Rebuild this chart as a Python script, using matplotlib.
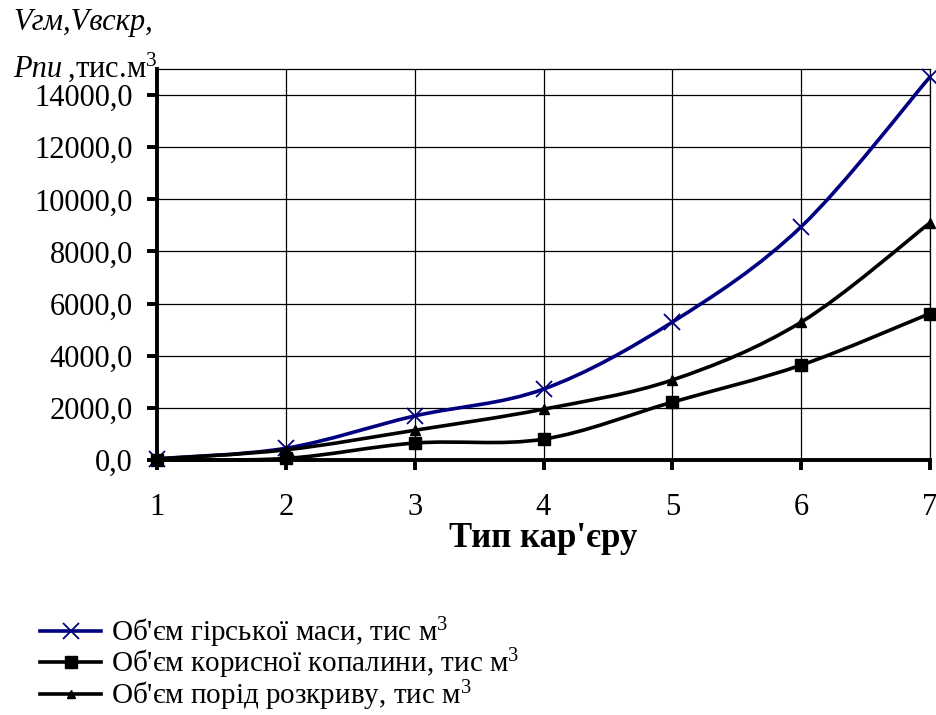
import matplotlib
matplotlib.use("Agg")
import matplotlib.pyplot as plt
import numpy as np
from matplotlib.path import Path
from matplotlib.patches import PathPatch
from matplotlib.lines import Line2D
from matplotlib.ticker import FuncFormatter

plt.rcParams['font.family'] = ['Liberation Serif', 'DejaVu Serif']
plt.rcParams['mathtext.fontset'] = 'custom'
plt.rcParams['mathtext.rm'] = 'Liberation Serif'
plt.rcParams['mathtext.it'] = 'Liberation Serif:italic'

# Тип кар'єру
quarry_type = [1, 2, 3, 4, 5, 6, 7]
# Об'єм гірської маси, тис м3
rock_mass = [50, 450, 1690, 2720, 5290, 8950, 14700]
# Об'єм корисної копалини, тис м3
mineral = [10, 60, 650, 800, 2220, 3640, 5620]
# Об'єм порід розкриву, тис м3
overburden = [40, 390, 1140, 1950, 3070, 5290, 9100]

y_ticks = [0, 2000, 4000, 6000, 8000, 10000, 12000, 14000]

series_labels = [
    "Об'єм гірської маси, тис м$^3$",
    "Об'єм корисної копалини, тис м$^3$",
    "Об'єм порід розкриву, тис м$^3$",
]

NAVY = '#000080'
LW = 2.6
SPINE_W = 2.8


def smooth_path(xs, ys):
    """Cubic Bezier path through the points (Catmull-Rom style control points)."""
    p = np.column_stack([xs, ys]).astype(float)
    n = len(p)
    verts = [p[0]]
    codes = [Path.MOVETO]
    for i in range(n - 1):
        p0 = p[i - 1] if i > 0 else p[i]
        p1 = p[i]
        p2 = p[i + 1]
        p3 = p[i + 2] if i + 2 < n else p[i + 1]
        c1 = p1 + (p2 - p0) / 6.0
        c2 = p2 - (p3 - p1) / 6.0
        verts += [c1, c2, p2]
        codes += [Path.CURVE4] * 3
    return Path(verts, codes)


fig = plt.figure(figsize=(9.36, 7.15), dpi=100)
ax = fig.add_axes([157 / 936, 1 - 460 / 715, (930 - 157) / 936, (460 - 69) / 715])

ax.set_xlim(1, 7)
ax.set_ylim(0, 15000)

# grid
ax.set_xticks(quarry_type)
ax.set_yticks(y_ticks)
ax.grid(True, color='black', linewidth=0.9)
ax.axhline(15000, color='black', linewidth=0.9, clip_on=False)
ax.axvline(7, color='black', linewidth=0.9, clip_on=False)

styles = [
    dict(color=NAVY, marker='x', ms=12, mew=1.3),
    dict(color='black', marker='s', ms=8.5, mew=1.0),
    dict(color='black', marker='^', ms=7.5, mew=1.0),
]
data = [rock_mass, mineral, overburden]
for ys, st in zip(data, styles):
    patch = PathPatch(smooth_path(quarry_type, ys), facecolor='none',
                      edgecolor=st['color'], linewidth=LW, zorder=3,
                      clip_on=False, capstyle='round', joinstyle='round')
    ax.add_patch(patch)
    ax.plot(quarry_type, ys, linestyle='none', marker=st['marker'],
            markersize=st['ms'], markeredgewidth=st['mew'],
            color=st['color'], zorder=4, clip_on=False)

# spines
for s in ('top', 'right'):
    ax.spines[s].set_visible(False)
ax.spines['left'].set_linewidth(SPINE_W)
ax.spines['bottom'].set_linewidth(SPINE_W)
ax.spines['left'].set_zorder(5)
ax.spines['bottom'].set_zorder(5)

ax.tick_params(axis='y', direction='out', length=7.5, width=SPINE_W, pad=10,
               labelsize=22)
ax.tick_params(axis='x', direction='out', length=7.5, width=SPINE_W, pad=16,
               labelsize=22)
ax.yaxis.set_major_formatter(FuncFormatter(lambda v, _: f"{v:.1f}".replace('.', ',')))

ax.set_xlabel("Тип кар'єру", fontsize=25, fontweight='bold')
ax.xaxis.set_label_coords(0.5, -0.158)

# axis title in the upper-left corner
fig.text(13 / 936, 1 - 30 / 715, "Vгм,Vвскр,", fontsize=22, style='italic',
         ha='left', va='baseline')
fig.text(13 / 936, 1 - 77 / 715, "Pпи", fontsize=22, style='italic',
         ha='left', va='baseline')
fig.text(60 / 936, 1 - 77 / 715, " ,тис.м$^3$", fontsize=22,
         ha='left', va='baseline')

# legend
handles = [
    Line2D([], [], color=NAVY, lw=LW, marker='x', ms=12, mew=1.3),
    Line2D([], [], color='black', lw=LW, marker='s', ms=8.5, mew=1.0),
    Line2D([], [], color='black', lw=LW, marker='^', ms=6, mew=1.0),
]
fig.legend(handles, series_labels, loc='upper left',
           bbox_to_anchor=(40 / 936, 1 - 615 / 715), frameon=False,
           fontsize=21, handlelength=2.1, handletextpad=0.35,
           labelspacing=-0.1, borderpad=0, borderaxespad=0)

fig.savefig('out.png', dpi=100)
